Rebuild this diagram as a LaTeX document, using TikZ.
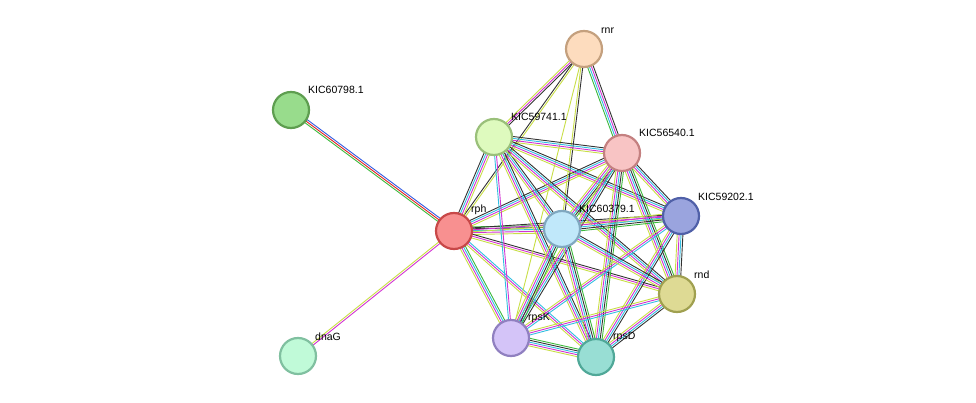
\documentclass[tikz,border=0pt]{standalone}
\usepackage{fontspec}
\setmainfont{Liberation Sans}
\usetikzlibrary{calc,backgrounds}
\definecolor{tm}{RGB}{200,222,70}
\definecolor{ex}{RGB}{210,50,210}
\definecolor{db}{RGB}{50,190,225}
\definecolor{co}{RGB}{50,50,50}
\definecolor{nb}{RGB}{60,185,60}
\definecolor{fu}{RGB}{225,35,35}
\definecolor{cc}{RGB}{50,90,225}
\definecolor{fRnr}{RGB}{253,220,190}\definecolor{dRnr}{RGB}{196,160,126}
\definecolor{fKa}{RGB}{152,220,140}\definecolor{dKa}{RGB}{94,158,80}
\definecolor{fKb}{RGB}{222,250,190}\definecolor{dKb}{RGB}{154,192,122}
\definecolor{fKc}{RGB}{248,196,196}\definecolor{dKc}{RGB}{196,128,128}
\definecolor{fKd}{RGB}{154,164,222}\definecolor{dKd}{RGB}{80,96,168}
\definecolor{fRph}{RGB}{248,144,144}\definecolor{dRph}{RGB}{200,72,72}
\definecolor{fKe}{RGB}{192,232,250}\definecolor{dKe}{RGB}{128,168,192}
\definecolor{fRnd}{RGB}{222,218,148}\definecolor{dRnd}{RGB}{160,160,80}
\definecolor{fRpsK}{RGB}{212,196,248}\definecolor{dRpsK}{RGB}{144,128,192}
\definecolor{fRpsD}{RGB}{152,222,212}\definecolor{dRpsD}{RGB}{80,168,152}
\definecolor{fDnaG}{RGB}{192,250,216}\definecolor{dDnaG}{RGB}{128,192,160}
\tikzset{
  prot/.style={circle, minimum size=36pt, inner sep=0, line width=2.2pt, fill=f#1, draw=d#1},
  lbl/.style={font=\fontsize{10.5}{12}\selectfont, anchor=south west, inner sep=1pt}
}
\newcommand\lnk[3]{%
  \def\nn{0}\foreach \c in {#3}{\xdef\nn{\the\numexpr\nn+1}}%
  \foreach \c [count=\i] in {#3}{%
    \pgfmathsetmacro\o{(\i-(\nn+1)/2)*1.9}
    \draw[\c, line width=0.9pt] ($(#1)!\o pt!90:(#2)$) -- ($(#2)!\o pt!-90:(#1)$);
  }}
\begin{document}
\begin{tikzpicture}[x=1pt,y=-1pt]
\useasboundingbox (0,0) rectangle (976,403);
% proteins
\node[prot=Rnr] (rnr) at (584,49) {};
\node[prot=Ka] (k798) at (291,110) {};
\node[prot=Kb] (k741) at (494,137) {};
\node[prot=Kc] (k540) at (622,153) {};
\node[prot=Kd] (k202) at (681,216) {};
\node[prot=Rph] (rph) at (454,231) {};
\node[prot=Ke] (k379) at (562,229) {};
\node[prot=Rnd] (rnd) at (677,294) {};
\node[prot=RpsK] (rpsK) at (511,338) {};
\node[prot=RpsD] (rpsD) at (596,357) {};
\node[prot=DnaG] (dnaG) at (298,356) {};
% labels
\node[lbl] at (600,35) {rnr};
\node[lbl] at (307,95) {KIC60798.1};
\node[lbl] at (510,122) {KIC59741.1};
\node[lbl] at (638,138) {KIC56540.1};
\node[lbl] at (697,202) {KIC59202.1};
\node[lbl] at (470,216) {rph};
\node[lbl] at (578,214) {KIC60379.1};
\node[lbl] at (693,280) {rnd};
\node[lbl] at (527,324) {rpsK};
\node[lbl] at (612,343) {rpsD};
\node[lbl] at (314,342) {dnaG};
% interactions
\begin{scope}[on background layer]
\lnk{rph}{k798}{cc,fu,nb}
\lnk{rph}{dnaG}{tm,ex}
\lnk{rph}{rnr}{tm,co}
\lnk{rph}{k741}{tm,ex,db,co}
\lnk{rph}{k540}{tm,ex,db,co}
\lnk{rph}{k379}{tm,ex,db,co,nb}
\lnk{rph}{k202}{tm,ex,co}
\lnk{rph}{rnd}{tm,ex,co}
\lnk{rph}{rpsK}{tm,ex,db,nb}
\lnk{rph}{rpsD}{tm,ex,db}
\lnk{rnr}{k741}{tm,ex,co}
\lnk{rnr}{k540}{nb,db,ex,co}
\lnk{rnr}{k379}{tm,co}
\lnk{rnr}{rpsK}{tm}
\lnk{k741}{k540}{tm,ex,db,co}
\lnk{k741}{k202}{tm,ex,db,co}
\lnk{k741}{k379}{tm,ex,db,co}
\lnk{k741}{rnd}{tm,ex,db,co}
\lnk{k741}{rpsK}{db,ex}
\lnk{k741}{rpsD}{tm,ex,db,co}
\lnk{k540}{k202}{tm,ex,db,co}
\lnk{k540}{k379}{tm,ex,db,co,nb}
\lnk{k540}{rnd}{tm,ex,db,co,nb}
\lnk{k540}{rpsK}{tm,ex,db,co}
\lnk{k540}{rpsD}{tm,ex,db,co,nb}
\lnk{k202}{k379}{tm,ex,db,co,nb}
\lnk{k202}{rnd}{tm,ex,db,co}
\lnk{k202}{rpsK}{tm,ex,db}
\lnk{k202}{rpsD}{tm,ex,db,co}
\lnk{k379}{rnd}{tm,ex,db,co}
\lnk{k379}{rpsK}{tm,ex,db,co,nb}
\lnk{k379}{rpsD}{tm,ex,db,co,nb}
\lnk{rnd}{rpsK}{tm,ex,db}
\lnk{rnd}{rpsD}{tm,ex,db,co}
\lnk{rpsK}{rpsD}{tm,ex,db,co,nb}
\end{scope}
\end{tikzpicture}
\end{document}
